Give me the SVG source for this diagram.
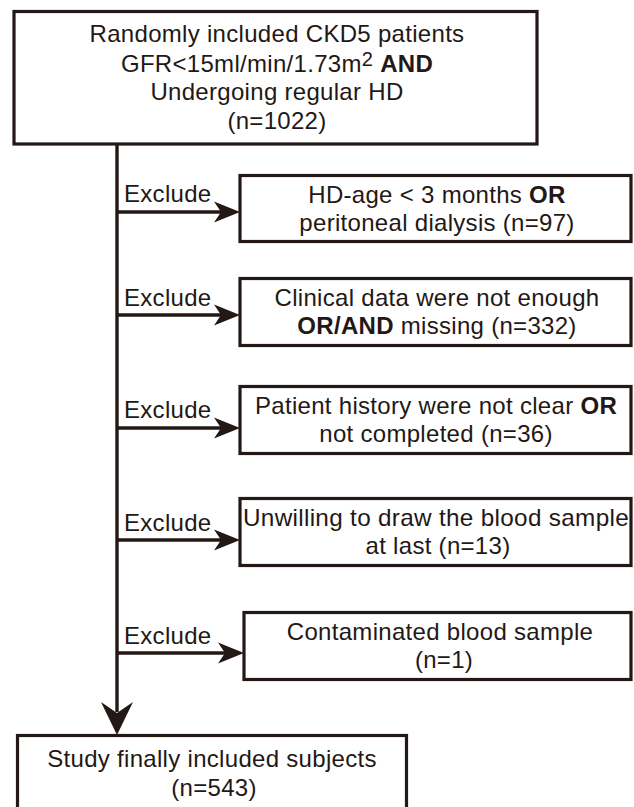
<svg xmlns="http://www.w3.org/2000/svg" width="634" height="807" viewBox="0 0 634 807">
<style>
.box{fill:#fff;stroke:#231815;stroke-width:3.2}
.t{font-family:"Liberation Sans",Arial,sans-serif;font-size:24px;letter-spacing:0.3px;fill:#231815;text-anchor:middle}
.lbl{font-family:"Liberation Sans",Arial,sans-serif;font-size:24px;letter-spacing:0.3px;fill:#231815}
.ln{stroke:#231815;stroke-width:3.4;fill:none}
.ah{fill:#231815}
.b{font-weight:bold}
</style>
<rect width="634" height="807" fill="#fff"/>
<g id="connectors">
<line class="ln" x1="117" y1="144" x2="117" y2="712"/>
<path class="ah" d="M117,735 L101,702 L117,713 L133,702 Z"/>
<line class="ln" x1="117" y1="212" x2="226" y2="212"/>
<path class="ah" d="M240,212 L214,201.5 L221,212 L214,222.5 Z"/>
<line class="ln" x1="117" y1="315" x2="226" y2="315"/>
<path class="ah" d="M240,315 L214,304.5 L221,315 L214,325.5 Z"/>
<line class="ln" x1="117" y1="428" x2="226" y2="428"/>
<path class="ah" d="M240,428 L214,417.5 L221,428 L214,438.5 Z"/>
<line class="ln" x1="117" y1="540" x2="226" y2="540"/>
<path class="ah" d="M240,540 L214,529.5 L221,540 L214,550.5 Z"/>
<line class="ln" x1="117" y1="653" x2="230" y2="653"/>
<path class="ah" d="M244,653 L218,642.5 L225,653 L218,663.5 Z"/>
<text class="lbl" x="124" y="202">Exclude</text>
<text class="lbl" x="124" y="306">Exclude</text>
<text class="lbl" x="124" y="418">Exclude</text>
<text class="lbl" x="124" y="531">Exclude</text>
<text class="lbl" x="124" y="644">Exclude</text>
</g>
<g id="n0">
<rect class="box" x="14" y="11.5" width="523" height="132.5"/>
<text class="t" x="277" y="42">Randomly included CKD5 patients</text>
<text class="t" x="277" y="72">GFR&lt;15ml/min/1.73m<tspan font-size="20" dy="-6">2</tspan><tspan dy="6"> </tspan><tspan class="b">AND</tspan></text>
<text class="t" x="277" y="100">Undergoing regular HD</text>
<text class="t" x="277" y="129">(n=1022)</text>
</g>
<g id="n1">
<rect class="box" x="240" y="175.5" width="391" height="66"/>
<text class="t" x="437" y="203">HD-age &lt; 3 months <tspan class="b">OR</tspan></text>
<text class="t" x="437" y="231">peritoneal dialysis (n=97)</text>
</g>
<g id="n2">
<rect class="box" x="240" y="278.5" width="391" height="67"/>
<text class="t" x="437" y="306">Clinical data were not enough</text>
<text class="t" x="437" y="334"><tspan class="b">OR/AND</tspan> missing (n=332)</text>
</g>
<g id="n3">
<rect class="box" x="240" y="386.5" width="391" height="67"/>
<text class="t" x="436" y="414">Patient history were not clear <tspan class="b">OR</tspan></text>
<text class="t" x="436" y="442">not completed (n=36)</text>
</g>
<g id="n4">
<rect class="box" x="240" y="498.5" width="391" height="67"/>
<text class="t" x="436" y="526" textLength="386" lengthAdjust="spacingAndGlyphs">Unwilling to draw the blood sample</text>
<text class="t" x="438" y="554">at last (n=13)</text>
</g>
<g id="n5">
<rect class="box" x="244" y="612.5" width="387" height="67"/>
<text class="t" x="440" y="640">Contaminated blood sample</text>
<text class="t" x="444" y="668">(n=1)</text>
</g>
<g id="n6">
<rect class="box" x="17.5" y="735.5" width="389" height="90"/>
<text class="t" x="212" y="767">Study finally included subjects</text>
<text class="t" x="214" y="796">(n=543)</text>
</g>
</svg>
